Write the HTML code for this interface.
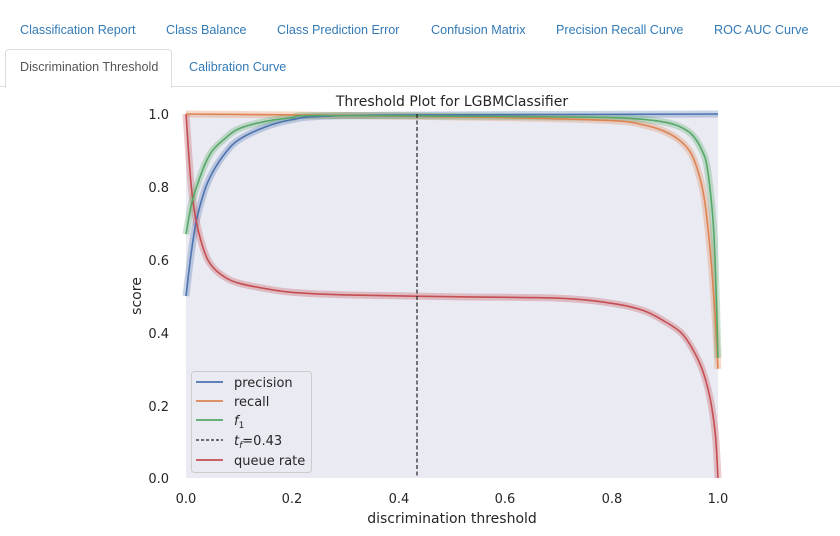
<!DOCTYPE html>
<html><head><meta charset="utf-8"><style>
body{margin:0;width:840px;height:536px;background:#fff;font-family:"Liberation Sans",sans-serif;overflow:hidden;position:relative}
.t{position:absolute;font-size:12.6px;color:#337ab7;white-space:nowrap}
</style></head><body>
<div class="t" style="left:20px;top:23px">Classification Report</div>
<div class="t" style="left:166px;top:23px">Class Balance</div>
<div class="t" style="left:277px;top:23px">Class Prediction Error</div>
<div class="t" style="left:431px;top:23px">Confusion Matrix</div>
<div class="t" style="left:556px;top:23px">Precision Recall Curve</div>
<div class="t" style="left:714px;top:23px">ROC AUC Curve</div>
<div style="position:absolute;left:0;top:86px;width:840px;height:1px;background:#ddd"></div>
<div style="position:absolute;left:5px;top:49px;width:165px;height:38px;border:1px solid #ddd;border-bottom:none;border-radius:4px 4px 0 0;background:#fff"></div>
<div class="t" style="left:20px;top:60px;color:#555">Discrimination Threshold</div>
<div class="t" style="left:189px;top:60px">Calibration Curve</div>
<svg id="s" width="840" height="536" style="position:absolute;left:0;top:0" font-family="DejaVu Sans, sans-serif">
<rect x="186" y="114" width="532" height="364" fill="#eaeaf2"/>
<g id="g"></g>
<line x1="417" y1="114" x2="417" y2="478" stroke="#222" stroke-width="1.2" stroke-dasharray="4,2.5"/>
<text x="452" y="106" font-size="14" text-anchor="middle" fill="#262626">Threshold Plot for LGBMClassifier</text>
<g font-size="13" fill="#262626" text-anchor="end">
<text x="169" y="119">1.0</text><text x="169" y="192">0.8</text><text x="169" y="265">0.6</text><text x="169" y="338">0.4</text><text x="169" y="411">0.2</text><text x="169" y="483">0.0</text></g>
<g font-size="13" fill="#262626" text-anchor="middle">
<text x="186" y="503">0.0</text><text x="292" y="503">0.2</text><text x="399" y="503">0.4</text><text x="505" y="503">0.6</text><text x="612" y="503">0.8</text><text x="718" y="503">1.0</text></g>
<text x="452" y="523" font-size="14" text-anchor="middle" fill="#262626">discrimination threshold</text>
<text transform="translate(141,296) rotate(-90)" font-size="14" text-anchor="middle" fill="#262626">score</text>
<rect x="191.5" y="371.5" width="120" height="101" rx="3" fill="#eaeaf2" fill-opacity="0.8" stroke="#ccc"/>
<g stroke-width="1.8">
<line x1="196" y1="382" x2="223" y2="382" stroke="#4c72b0"/>
<line x1="196" y1="401" x2="223" y2="401" stroke="#dd8452"/>
<line x1="196" y1="420" x2="223" y2="420" stroke="#55a868"/>
<line x1="196" y1="440" x2="223" y2="440" stroke="#222" stroke-width="1.2" stroke-dasharray="3,2"/>
<line x1="196" y1="460" x2="223" y2="460" stroke="#c44e52"/></g>
<g font-size="13" fill="#262626">
<text x="234" y="387">precision</text><text x="234" y="406">recall</text>
<text x="234" y="425" font-style="italic">f<tspan font-size="9" dy="3" font-style="normal">1</tspan></text>
<text x="234" y="445"><tspan font-style="italic">t</tspan><tspan font-size="9" dy="3" font-style="italic">f</tspan><tspan dy="-3">=0.43</tspan></text>
<text x="234" y="465">queue rate</text></g>
</svg>
<script>
var D={
"#4c72b0":[[0,.5],[.01,.62],[.02,.71],[.035,.79],[.05,.84],[.075,.895],[.1,.93],[.15,.965],[.2,.985],[.25,.993],[.4,.997],[1,1]],
"#c44e52":[[0,1],[.01,.8],[.02,.7],[.035,.62],[.05,.58],[.075,.55],[.1,.535],[.15,.52],[.2,.51],[.3,.503],[.5,.498],[.7,.494],[.8,.48],[.86,.46],[.9,.43],[.93,.4],[.95,.36],[.97,.3],[.985,.22],[.995,.12],[1,.0]],
"#dd8452":[[0,1],[.3,.996],[.6,.99],[.8,.982],[.86,.97],[.9,.952],[.93,.925],[.95,.89],[.965,.83],[.975,.76],[.985,.63],[.993,.48],[1,.3]],
"#55a868":[[0,.67],[.01,.75],[.02,.8],[.035,.86],[.05,.9],[.075,.935],[.1,.96],[.15,.98],[.2,.99],[.25,.996],[.6,.993],[.8,.99],[.88,.982],[.92,.97],[.95,.945],[.97,.9],[.98,.85],[.99,.72],[.995,.58],[1,.33]]};
function path(a){var P=a.map(function(q){return [186+532*q[0],478-364*q[1]]});var d='M'+P[0][0]+','+P[0][1];
for(var i=0;i<P.length-1;i++){var p0=P[i-1]||P[i],p1=P[i],p2=P[i+1],p3=P[i+2]||p2;
d+=' C'+(p1[0]+(p2[0]-p0[0])/6).toFixed(1)+','+(p1[1]+(p2[1]-p0[1])/6).toFixed(1)+' '+(p2[0]-(p3[0]-p1[0])/6).toFixed(1)+','+(p2[1]-(p3[1]-p1[1])/6).toFixed(1)+' '+p2[0].toFixed(1)+','+p2[1].toFixed(1);}
return d;}
var g=document.getElementById('g'),h='';
for(var c in D)h+='<path d="'+path(D[c])+'" fill="none" stroke="'+c+'" stroke-width="7" stroke-opacity="0.3" stroke-linejoin="round"/>';
for(var c in D)h+='<path d="'+path(D[c])+'" fill="none" stroke="'+c+'" stroke-width="1.6" stroke-linejoin="round"/>';
g.innerHTML=h;
</script>
</body></html>
